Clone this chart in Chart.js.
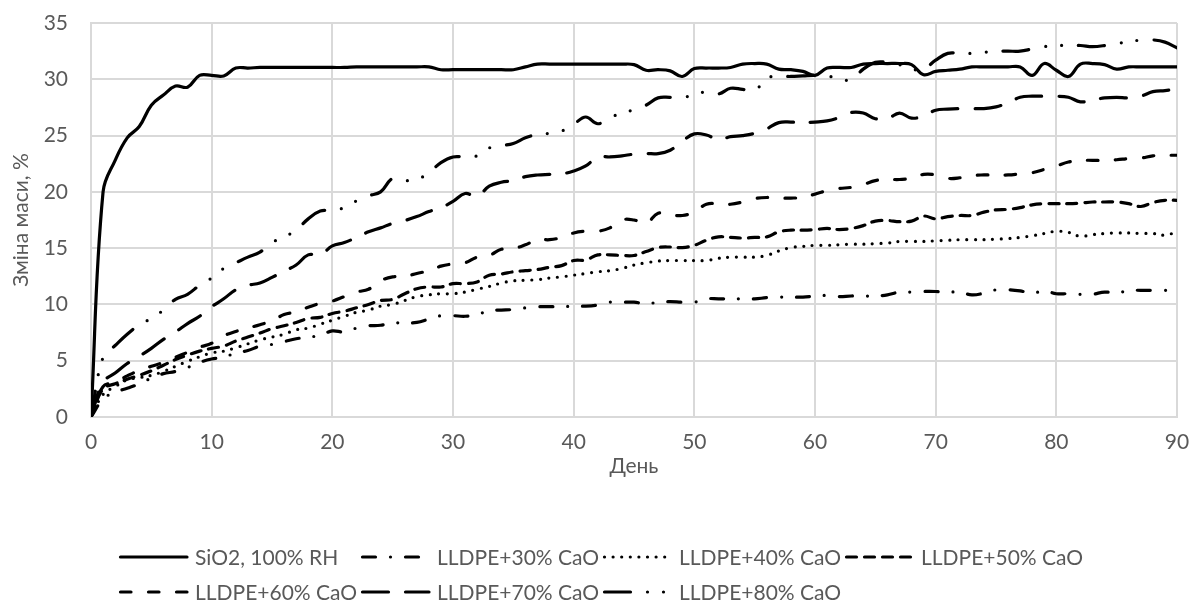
<!DOCTYPE html>
<html>
<head>
<meta charset="utf-8">
<script src="https://cdn.jsdelivr.net/npm/chart.js@4/dist/chart.umd.min.js"></script>
<style>
  html, body { margin: 0; padding: 0; background: #ffffff; }
  #wrap { width: 1191px; height: 611px; position: relative; }
</style>
</head>
<body>
<div id="wrap"><canvas id="chart"></canvas></div>
<script>
// ---------- data ----------
const days = [
  0, 1, 2, 3, 4, 5, 6, 7, 8, 9,
  10, 11, 12, 13, 14, 15, 16, 17, 18, 19,
  20, 21, 22, 23, 24, 25, 26, 27, 28, 29,
  30, 31, 32, 33, 34, 35, 36, 37, 38, 39,
  40, 41, 42, 43, 44, 45, 46, 47, 48, 49,
  50, 51, 52, 53, 54, 55, 56, 57, 58, 59,
  60, 61, 62, 63, 64, 65, 66, 67, 68, 69,
  70, 71, 72, 73, 74, 75, 76, 77, 78, 79,
  80, 81, 82, 83, 84, 85, 86, 87, 88, 89,
  90
];

const seriesNames = [
  'SiO2, 100% RH',
  'LLDPE+30% CaO',
  'LLDPE+40% CaO',
  'LLDPE+50% CaO',
  'LLDPE+60% CaO',
  'LLDPE+70% CaO',
  'LLDPE+80% CaO'
];

const sio2 = [
  0, 20.0, 22.8, 24.8, 25.8, 27.7, 28.6, 29.4, 29.3, 30.35,
  30.35, 30.3, 31.0, 31.0, 31.05, 31.05, 31.05, 31.05, 31.05, 31.05,
  31.05, 31.05, 31.1, 31.1, 31.1, 31.1, 31.1, 31.1, 31.1, 30.85,
  30.85, 30.85, 30.85, 30.85, 30.85, 30.85, 31.1, 31.35, 31.35, 31.35,
  31.35, 31.35, 31.35, 31.35, 31.35, 31.3, 30.8, 30.85, 30.75, 30.25,
  30.95, 31.0, 31.0, 31.05, 31.35, 31.4, 31.35, 30.9, 30.85, 30.7,
  30.35, 31.0, 31.05, 31.05, 31.35, 31.4, 31.4, 31.4, 31.3, 30.4,
  30.7, 30.8, 30.9, 31.1, 31.1, 31.1, 31.1, 31.1, 30.35, 31.4,
  30.8, 30.25, 31.35, 31.4, 31.3, 30.9, 31.1, 31.1, 31.1, 31.1,
  31.1
];

const cao30 = [
  0, 1.6, 2.2, 2.55, 2.95, 3.45, 3.85, 4.05, 4.4, 4.85,
  5.15, 5.3, 5.7, 5.9, 6.3, 6.45, 6.7, 6.95, 7.1, 7.25,
  7.65, 7.55, 7.9, 8.1, 8.15, 8.35, 8.35, 8.4, 8.7, 9.0,
  9.0, 8.95, 9.1, 9.45, 9.5, 9.55, 9.7, 9.8, 9.8, 9.8,
  9.85, 9.85, 9.95, 10.2, 10.2, 10.2, 10.05, 10.2, 10.25, 10.2,
  10.2, 10.5, 10.5, 10.5, 10.5, 10.5, 10.6, 10.65, 10.65, 10.65,
  10.75, 10.8, 10.7, 10.75, 10.75, 10.75, 10.85, 11.1, 11.1, 11.15,
  11.15, 11.1, 11.1, 10.85, 11.0, 11.3, 11.3, 11.2, 11.0, 11.2,
  10.95, 10.95, 10.9, 10.9, 11.1, 11.0, 11.25, 11.25, 11.25, 11.25,
  11.25
];

const cao40 = [
  0, 2.0, 2.7, 3.3, 3.5, 3.7, 4.05, 4.5, 4.95, 5.35,
  5.7, 5.85, 6.15, 6.5, 6.85, 7.1, 7.35, 7.75, 7.9, 8.25,
  8.6, 8.95, 9.3, 9.5, 9.85, 10.0, 10.35, 10.7, 10.85, 10.95,
  10.95, 11.1, 11.35, 11.6, 11.9, 12.1, 12.15, 12.2, 12.35, 12.45,
  12.6, 12.75, 12.9, 13.0, 13.2, 13.5, 13.7, 13.85, 13.9, 13.9,
  13.9, 13.9, 14.1, 14.2, 14.2, 14.2, 14.35, 14.75, 15.05, 15.15,
  15.25, 15.25, 15.3, 15.35, 15.35, 15.4, 15.45, 15.6, 15.6, 15.6,
  15.65, 15.7, 15.75, 15.75, 15.75, 15.8, 15.85, 15.95, 16.1, 16.3,
  16.5, 16.4, 16.05, 16.2, 16.3, 16.35, 16.35, 16.3, 16.3, 16.15,
  16.45
];

const cao50 = [
  0, 2.5, 2.95, 3.35, 3.7, 4.1, 4.6, 5.1, 5.5, 5.85,
  6.1, 6.3, 6.75, 7.1, 7.45, 7.85, 8.1, 8.4, 8.75, 8.85,
  9.2, 9.4, 9.7, 10.0, 10.35, 10.45, 10.95, 11.4, 11.55, 11.55,
  11.85, 11.85, 12.0, 12.6, 12.7, 12.9, 13.0, 13.1, 13.3, 13.45,
  13.9, 13.95, 14.4, 14.4, 14.35, 14.35, 14.7, 15.05, 15.1, 15.05,
  15.25, 15.7, 16.0, 15.95, 15.9, 15.95, 16.0, 16.45, 16.6, 16.6,
  16.65, 16.75, 16.65, 16.75, 17.0, 17.4, 17.45, 17.35, 17.4, 17.85,
  17.6, 17.8, 17.9, 17.9, 18.2, 18.4, 18.45, 18.6, 18.85, 18.95,
  18.95, 18.95, 19.0, 19.1, 19.1, 19.1, 18.95, 18.7, 19.05, 19.25,
  19.25
];

const cao60 = [
  0, 2.7, 3.1, 3.65, 4.15, 4.5, 4.85, 5.3, 5.75, 6.2,
  6.55, 7.2, 7.6, 7.9, 8.2, 8.55, 9.1, 9.35, 9.75, 10.1,
  10.3, 10.7, 11.1, 11.35, 12.1, 12.45, 12.5, 12.75, 13.0, 13.4,
  13.6, 13.7, 14.2, 14.35, 14.9, 14.95, 15.3, 15.75, 15.75, 15.95,
  16.35, 16.5, 16.5, 16.8, 17.5, 17.5, 17.2, 18.1, 17.95, 17.9,
  18.2, 18.9, 18.95, 18.9, 19.1, 19.4, 19.5, 19.45, 19.45, 19.5,
  19.8, 20.1, 20.3, 20.4, 20.65, 21.0, 21.1, 21.1, 21.2, 21.55,
  21.5, 21.2, 21.25, 21.45, 21.5, 21.5, 21.5, 21.6, 21.7, 22.0,
  22.3, 22.65, 22.8, 22.8, 22.8, 22.85, 22.95, 23.0, 23.2, 23.25,
  23.25
];

const cao70 = [
  0, 3.1, 3.9, 4.75, 5.4, 6.1, 6.9, 7.55, 8.3, 8.95,
  9.8, 10.5, 11.3, 11.7, 11.9, 12.4, 12.95, 13.5, 14.4, 14.4,
  15.2, 15.5, 15.95, 16.45, 16.8, 17.2, 17.45, 17.8, 18.25, 18.6,
  19.15, 19.85, 19.6, 20.5, 20.85, 21.0, 21.35, 21.5, 21.55, 21.6,
  21.85, 22.3, 23.1, 23.1, 23.2, 23.35, 23.4, 23.4, 23.7, 24.5,
  25.15, 25.05, 24.65, 24.9, 25.0, 25.2, 25.6, 26.15, 26.2, 26.15,
  26.2, 26.3, 26.6, 27.05, 27.0, 26.5, 26.5, 27.0, 26.55, 26.75,
  27.25, 27.35, 27.4, 27.4, 27.4, 27.55, 27.9, 28.4, 28.5, 28.5,
  28.5, 28.4, 28.0, 28.15, 28.35, 28.4, 28.35, 28.5, 28.9, 29.0,
  29.1
];

const cao80 = [
  0, 5.3, 6.35, 7.35, 8.2, 8.75, 9.5, 10.45, 10.9, 11.7,
  12.35, 13.2, 13.7, 14.2, 14.65, 15.5, 16.0, 16.6, 17.6, 18.3,
  18.35, 18.6, 19.2, 19.65, 20.0, 21.2, 21.0, 21.1, 21.7, 22.6,
  23.1, 23.1, 23.2, 23.9, 24.1, 24.3, 24.8, 25.1, 25.2, 25.4,
  26.0, 26.65, 26.05, 26.6, 27.0, 27.3, 27.7, 28.35, 28.4, 28.4,
  28.6, 28.9, 28.7, 29.2, 29.1, 29.0, 30.1, 30.25, 30.25, 30.3,
  30.35, 30.3, 30.05, 29.95, 30.9, 31.5, 31.5, 31.3, 30.9, 30.9,
  31.7, 32.3, 32.3, 32.3, 32.4, 32.5, 32.5, 32.5, 32.7, 32.9,
  33.0, 33.0, 33.0, 32.9, 33.0, 33.2, 33.3, 33.5, 33.5, 33.3,
  32.8
];

const xTickValues = [0, 10, 20, 30, 40, 50, 60, 70, 80, 90];
const yTickValues = [0, 5, 10, 15, 20, 25, 30, 35];
const xTitle = 'День';
const yTitle = 'Зміна маси, %';

// ---------- styles ----------
const FONT = 'Lato, "Open Sans", "DejaVu Sans", sans-serif';
const FS = 21;
const TEXT = '#595959';
const GRID = '#d9d9d9';
const LW = 3.2;
const dashPatterns = [
  [],
  [13, 15, 0, 15],
  [0, 8.6],
  [10, 8],
  [10.5, 17.5],
  [26, 17],
  [26, 17, 0, 16, 0, 17]
];
const allSeries = [sio2, cao30, cao40, cao50, cao60, cao70, cao80];

const datasets = allSeries.map((vals, i) => ({
  label: seriesNames[i],
  data: vals.map((v, k) => ({ x: days[k], y: v })),
  borderColor: '#000000',
  backgroundColor: '#000000',
  borderWidth: LW,
  borderDash: dashPatterns[i],
  borderCapStyle: 'round',
  borderJoinStyle: 'round',
  pointRadius: 0,
  tension: 0.4,
  fill: false
}));

const legendPlugin = {
  id: 'excelLegend',
  afterDraw(chart) {
    const ctx = chart.ctx;
    const cols = [119, 361, 603, 845];
    const rows = [557, 592];
    chart.data.datasets.forEach((ds, i) => {
      const x = cols[i % 4];
      const y = rows[Math.floor(i / 4)];
      ctx.save();
      ctx.strokeStyle = '#000000';
      ctx.lineWidth = ds.borderWidth;
      ctx.lineCap = 'round';
      ctx.setLineDash(ds.borderDash || []);
      ctx.beginPath();
      ctx.moveTo(x + 1.5, y);
      ctx.lineTo(x + 68, y);
      ctx.stroke();
      ctx.setLineDash([]);
      ctx.fillStyle = TEXT;
      ctx.font = FS + 'px ' + FONT;
      ctx.textAlign = 'left';
      ctx.textBaseline = 'middle';
      ctx.fillText(ds.label, x + 76, y + 1);
      ctx.restore();
    });
  }
};

new Chart(document.getElementById('chart'), {
  type: 'line',
  data: { datasets },
  options: {
    responsive: true,
    maintainAspectRatio: false,
    animation: false,
    devicePixelRatio: 1,
    layout: { padding: { top: 23, right: 14, bottom: 116, left: 0 } },
    plugins: { legend: { display: false }, tooltip: { enabled: false } },
    scales: {
      x: {
        type: 'linear',
        min: 0, max: 90,
        afterBuildTicks(scale) { scale.ticks = xTickValues.map(v => ({ value: v })); },
        afterFit(scale) {
          scale.height = 78;
          scale.paddingLeft = 0;
          scale.paddingRight = 0;
        },
        ticks: { color: TEXT, font: { family: FONT, size: FS }, padding: 13, maxRotation: 0 },
        grid: { color: GRID, lineWidth: 2, drawTicks: false },
        border: { color: GRID, width: 2 },
        title: { display: true, text: xTitle, color: TEXT, font: { family: FONT, size: FS }, padding: { top: 0, bottom: 16 } }
      },
      y: {
        min: 0, max: 35,
        afterBuildTicks(scale) { scale.ticks = yTickValues.map(v => ({ value: v })); },
        afterFit(scale) {
          scale.width = 91;
          scale.paddingTop = 0;
          scale.paddingBottom = 0;
        },
        ticks: { color: TEXT, font: { family: FONT, size: FS }, padding: 23 },
        grid: { color: GRID, lineWidth: 2, drawTicks: false },
        border: { color: GRID, width: 2 },
        title: { display: true, text: yTitle, color: TEXT, font: { family: FONT, size: FS }, padding: { top: 9, bottom: 0 } }
      }
    }
  },
  plugins: [legendPlugin]
});
</script>
</body>
</html>
